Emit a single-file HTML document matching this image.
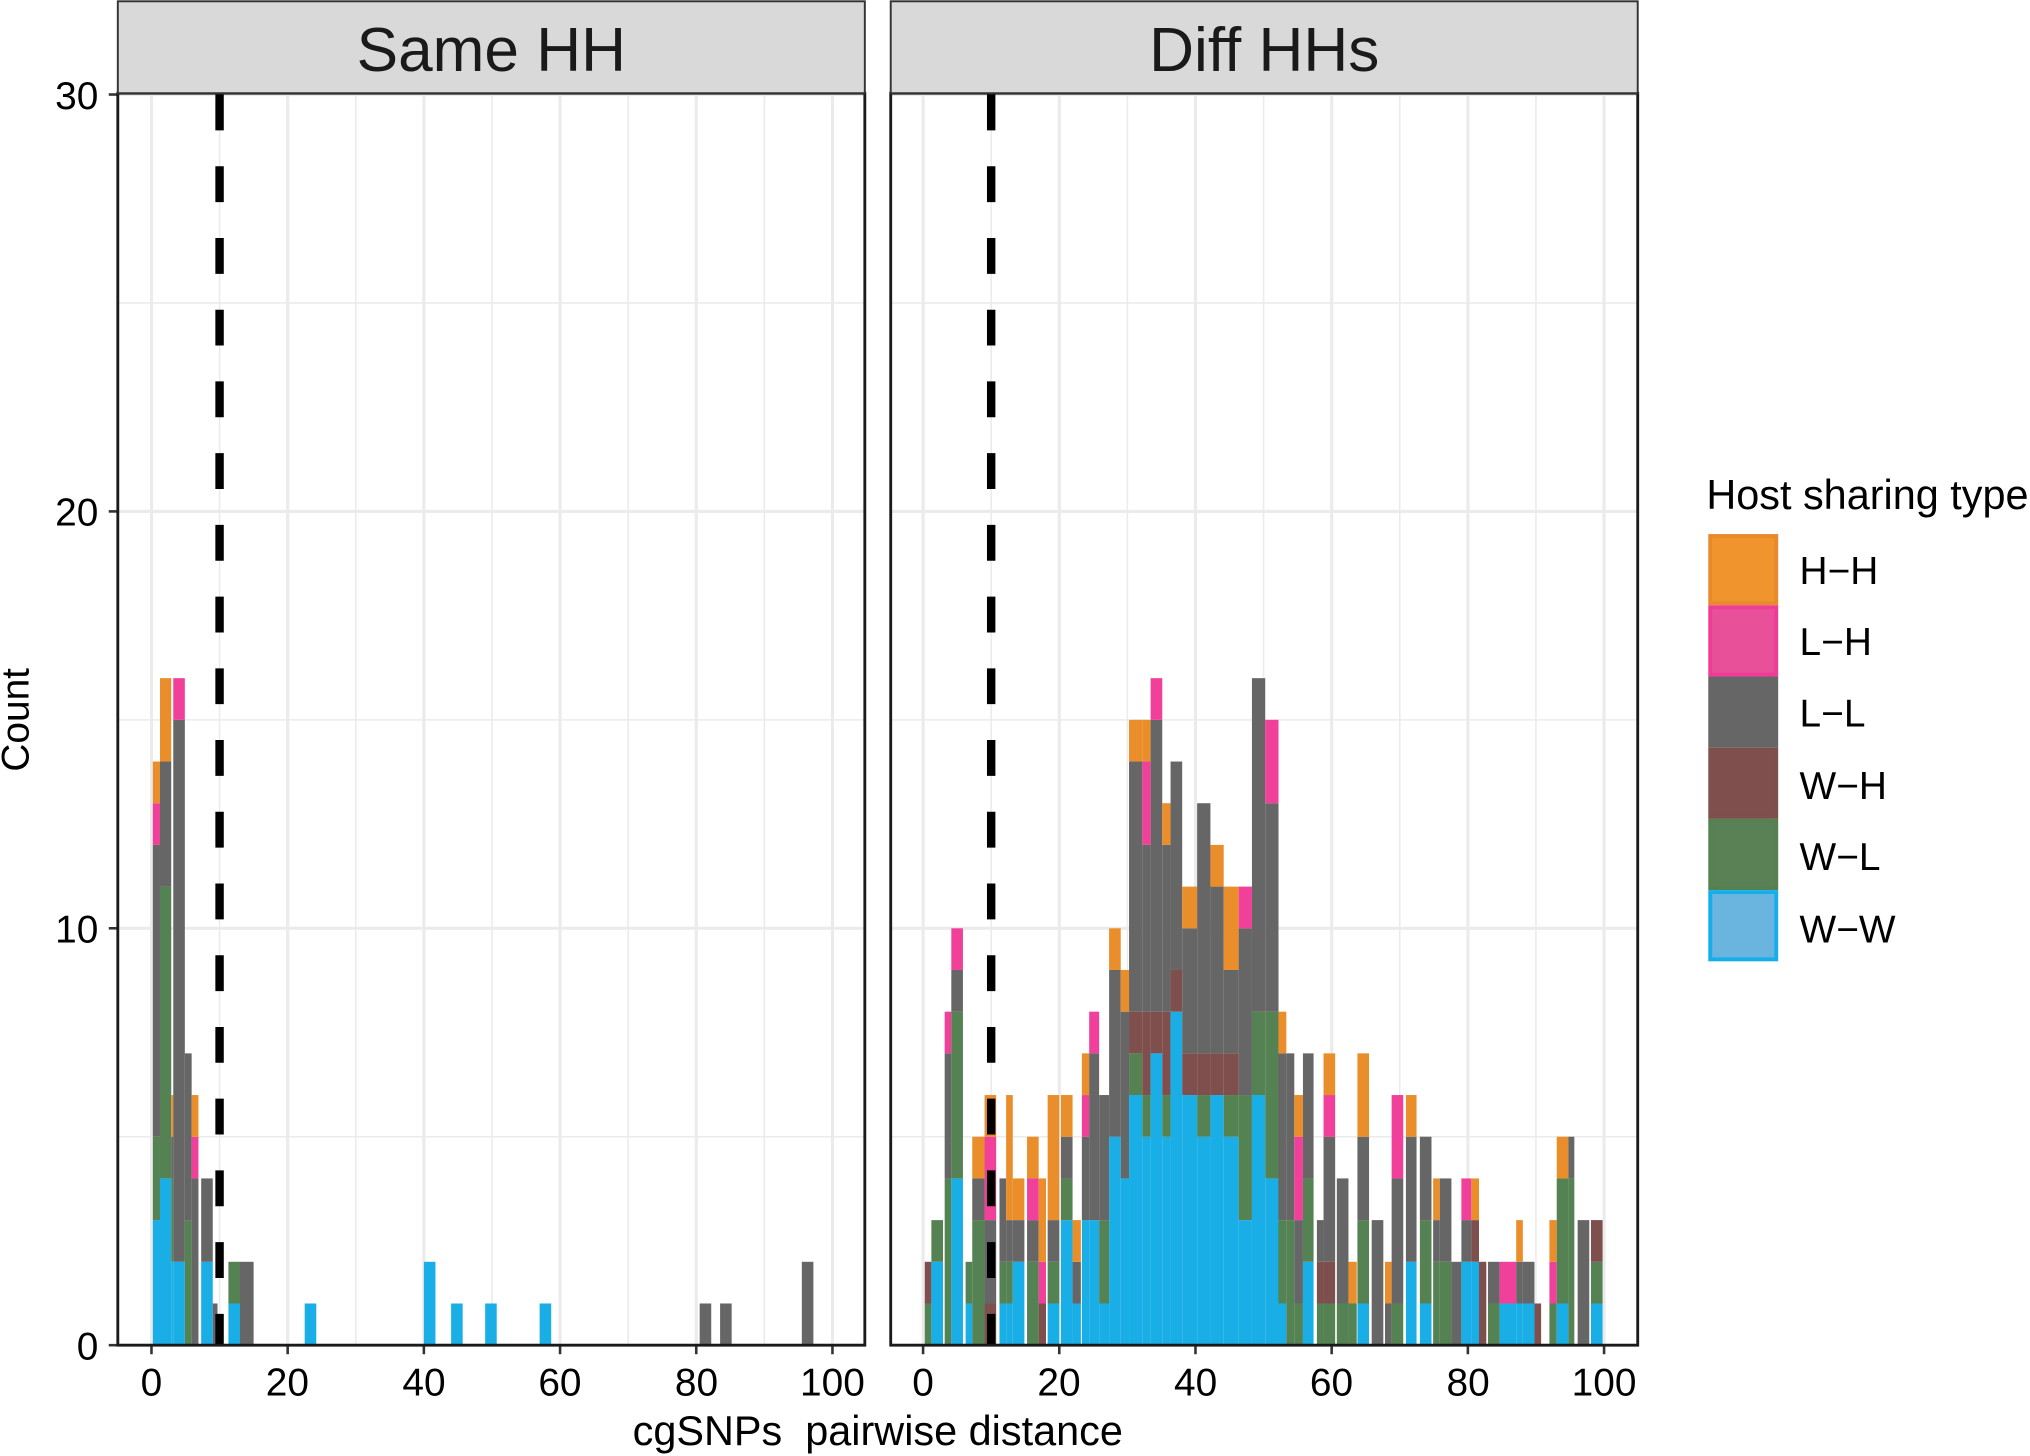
<!DOCTYPE html>
<html><head><meta charset="utf-8"><style>
html,body{margin:0;padding:0;background:#fff;}
svg{display:block;font-family:"Liberation Sans",Arial,sans-serif;}
</style></head><body>
<svg id="s" width="2030" height="1456" viewBox="0 0 1568 1124.6" preserveAspectRatio="none" xmlns="http://www.w3.org/2000/svg">
<rect x="0" y="0" width="1568" height="1124.6" fill="#fff"/>
<g id="grid"></g>
<g id="bars"></g>
<g id="over"></g>
<rect x="91" y="1" width="577" height="71" fill="#D9D9D9" stroke="#333" stroke-width="1.5"/>
<rect x="688" y="1" width="577" height="71" fill="#D9D9D9" stroke="#333" stroke-width="1.5"/>
<text x="379.5" y="55" font-size="48" text-anchor="middle" fill="#1a1a1a">Same HH</text>
<text x="976.5" y="55" font-size="48" text-anchor="middle" fill="#1a1a1a">Diff HHs</text>
<g font-size="30" fill="#000" text-anchor="end">
<text x="76" y="1050">0</text>
<text x="76" y="728">10</text>
<text x="76" y="406">20</text>
<text x="76" y="84">30</text>
</g>
<g font-size="30" fill="#000" text-anchor="middle">
<text x="117" y="1078">0</text><text x="222" y="1078">20</text><text x="327.5" y="1078">40</text><text x="432.5" y="1078">60</text><text x="538" y="1078">80</text><text x="643" y="1078">100</text>
<text x="713" y="1078">0</text><text x="818" y="1078">20</text><text x="923.5" y="1078">40</text><text x="1028.5" y="1078">60</text><text x="1134" y="1078">80</text><text x="1239" y="1078">100</text>
</g>
<text x="678" y="1116" font-size="32" text-anchor="middle" fill="#000" xml:space="preserve">cgSNPs  pairwise distance</text>
<text transform="translate(22,556) rotate(-90)" font-size="30" text-anchor="middle" fill="#000">Count</text>
<text x="1318" y="393" font-size="32" fill="#000">Host sharing type</text>
<g stroke-width="3">
<rect x="1321" y="414" width="51" height="52" fill="#F0952E" stroke="#E8892A"/>
<rect x="1321" y="469" width="51" height="52" fill="#E8509A" stroke="#F03C97"/>
<rect x="1321" y="524" width="51" height="52" fill="#666" stroke="#666"/>
<rect x="1321" y="579" width="51" height="52" fill="#7E4F4C" stroke="#7E4F4C"/>
<rect x="1321" y="634" width="51" height="52" fill="#598155" stroke="#558050"/>
<rect x="1321" y="689" width="51" height="52" fill="#69B5E0" stroke="#15AEEA"/>
</g>
<g font-size="30" fill="#000">
<text x="1390" y="451">H−H</text>
<text x="1390" y="506">L−H</text>
<text x="1390" y="561">L−L</text>
<text x="1390" y="617">W−H</text>
<text x="1390" y="672">W−L</text>
<text x="1390" y="728">W−W</text>
</g>
</svg>
<script>
var NS="http://www.w3.org/2000/svg";
function el(p,t,a){var e=document.createElementNS(NS,t);for(var k in a)e.setAttribute(k,a[k]);p.appendChild(e);return e;}
var grid=document.getElementById('grid'),bars=document.getElementById('bars'),over=document.getElementById('over');
var Y0=1039,U=32.2,XU=5.26;
var P=[{l:91,r:668,x0:117},{l:688,r:1265,x0:713}];
P.forEach(function(p,i){
  el(grid,'rect',{x:p.l,y:72,width:p.r-p.l,height:967,fill:'#fff'});
  [5,15,25].forEach(function(v){el(grid,'line',{x1:p.l,x2:p.r,y1:Y0-v*U,y2:Y0-v*U,stroke:'#EBEBEB','stroke-width':1.2});});
  [10,30,50,70,90].forEach(function(v){var x=p.x0+v*XU;el(grid,'line',{x1:x,x2:x,y1:72,y2:1039,stroke:'#EBEBEB','stroke-width':1.2});});
  [0,10,20,30].forEach(function(v){el(grid,'line',{x1:p.l,x2:p.r,y1:Y0-v*U,y2:Y0-v*U,stroke:'#EBEBEB','stroke-width':2.4});});
  [0,20,40,60,80,100].forEach(function(v){var x=p.x0+v*XU;el(grid,'line',{x1:x,x2:x,y1:72,y2:1039,stroke:'#EBEBEB','stroke-width':2.4});
     el(over,'line',{x1:x,x2:x,y1:1039,y2:1046,stroke:'#333','stroke-width':2});});
  if(i==0)[0,10,20,30].forEach(function(v){el(over,'line',{x1:84,x2:91,y1:Y0-v*U,y2:Y0-v*U,stroke:'#333','stroke-width':2});});
  el(over,'line',{x1:p.x0+10*XU,x2:p.x0+10*XU,y1:73,y2:1039,stroke:'#000','stroke-width':6.5,'stroke-dasharray':'27.7 27.7'});
  el(over,'rect',{x:p.l,y:72,width:p.r-p.l,height:967,fill:'none',stroke:'#1a1a1a','stroke-width':2.2});
});
var C={WW:'#1AAEE6',WL:'#548253',WH:'#7E4F4C',LL:'#666666',LH:'#F0409A',HH:'#E98E2A'};
var ORD=['WW','WL','WH','LL','LH','HH'];
function draw(p,a,b,st){
  var x1=p.x0+a*XU,x2=p.x0+b*XU,c=0;
  ORD.forEach(function(k){if(st[k]){el(bars,'rect',{x:x1,y:Y0-(c+st[k])*U,width:x2-x1,height:st[k]*U,fill:C[k]});c+=st[k];}});
}
var p1=[
[0.2,1.25,{WW:3,WL:2,LL:7,LH:1,HH:1}],
[1.25,2.9,{WW:4,WL:7,LL:3,HH:2}],
[2.9,3.2,{WW:2,WL:2,LL:1,HH:1}],
[3.2,4.9,{WW:2,LL:13,LH:1}],
[4.9,5.9,{WL:3,LL:4}],
[5.9,6.9,{LL:4,LH:1,HH:1}],
[7.3,9,{WW:2,LL:2}],
[9,9.7,{LL:1}],
[11.3,13,{WW:1,WL:1}],
[13,15,{LL:2}],
[22.5,24.2,{WW:1}],[40,41.7,{WW:2}],[44,45.7,{WW:1}],[49,50.7,{WW:1}],[57,58.7,{WW:1}],
[80.5,82.2,{LL:1}],[83.5,85.2,{LL:1}],[95.5,97.2,{LL:2}]
];
p1.forEach(function(d){draw(P[0],d[0],d[1],d[2]);});
function z1(x){return (x-70)/20.5;}
function z2(x){return 51+x/20.5;}
var q1=[
[75,95,{WL:1,WH:1}],[95,130,{WW:2,WL:1}],[135,155,{WL:4,LL:3,LH:1}],[155,190,{WW:4,WL:4,LL:1,LH:1}],
[198,218,{WW:1,WL:1}],[218,255,{WL:3,LL:1,HH:1}],[255,290,{WH:1,LL:2,LH:2,HH:1}],[300,320,{WW:1,WL:1,LL:2}],
[320,340,{WW:1,WL:1,LL:1,HH:3}],[340,375,{WW:2,LL:1,HH:1}],[383,418,{WL:2,LL:1,LH:1,HH:1}],[418,440,{WH:1,LH:1,HH:2}],
[445,480,{WW:1,WL:1,LL:1,HH:3}],[485,520,{WW:3,WL:1,LL:1,HH:1}],[520,545,{WW:1,LL:1,HH:1}],
[548,570,{WW:3,LL:2,LH:1,HH:1}],[570,600,{WW:3,LL:4,LH:1}],[600,630,{WW:1,WL:2,LL:3}],[630,665,{WW:5,LL:4,HH:1}],
[665,690,{WW:4,LL:4,HH:1}],[690,730,{WW:6,WL:1,WH:1,LL:6,HH:1}],[730,755,{WW:5,WL:1,WH:2,LL:4,LH:2,HH:1}],
[755,790,{WW:7,WH:1,LL:7,LH:1}],[790,815,{WW:5,WL:1,WH:2,LL:4,HH:1}],[815,850,{WW:8,WH:1,LL:5}],
[850,895,{WW:6,WH:1,LL:3,HH:1}],[895,935,{WW:5,WL:1,WH:1,LL:6}],[935,975,{WW:6,WH:1,LL:4,HH:1}],
[975,1020,{WW:5,WL:1,WH:1,LL:2,HH:2}],[1020,1060,{WW:3,WL:3,LL:4,LH:1}],[1060,1100,{WW:6,WL:2,LL:8}],
[1100,1140,{WW:4,WL:4,LL:5,LH:2}]
];
q1.forEach(function(d){draw(P[1],z1(d[0]),z1(d[1]),d[2]);});
var q2=[
[24,48,{WW:1,WL:2,LL:4,HH:1}],[48,72,{WL:3,LL:4}],[72,98,{WL:1,LL:2,LH:2,HH:1}],[98,130,{WW:2,WL:2,LL:3}],
[140,160,{WL:1,WH:1,LL:1}],[160,195,{WL:1,WH:1,LL:3,LH:1,HH:1}],[200,235,{WL:1,LL:3}],[235,260,{WL:1,HH:1}],
[262,297,{WW:1,WL:2,LL:2,HH:2}],[305,340,{LL:3}],[345,365,{LL:1,HH:1}],[365,400,{WL:1,LL:3,LH:2}],
[408,440,{WW:2,LL:3,HH:1}],[450,485,{WW:1,WL:2,LL:2}],[490,510,{WL:2,LL:1,HH:1}],[510,545,{WL:2,LL:2}],
[545,575,{LL:2}],[575,605,{WW:2,LL:1,LH:1}],[605,628,{WW:2,WH:1,HH:1}],[628,650,{WH:2}],
[655,690,{WL:1,LL:1}],[690,740,{WW:1,LH:1}],[740,760,{WW:1,LL:1,HH:1}],[760,795,{WW:1,LL:1}],
[795,815,{WH:1}],[840,862,{WL:1,LH:1,HH:1}],[862,897,{WW:1,WL:3,HH:1}],[897,915,{WL:4,LL:1}],
[925,960,{LL:3}],[965,1000,{WW:1,WL:1,WH:1}]
];
q2.forEach(function(d){draw(P[1],z2(d[0]),z2(d[1]),d[2]);});
</script>
</body></html>
